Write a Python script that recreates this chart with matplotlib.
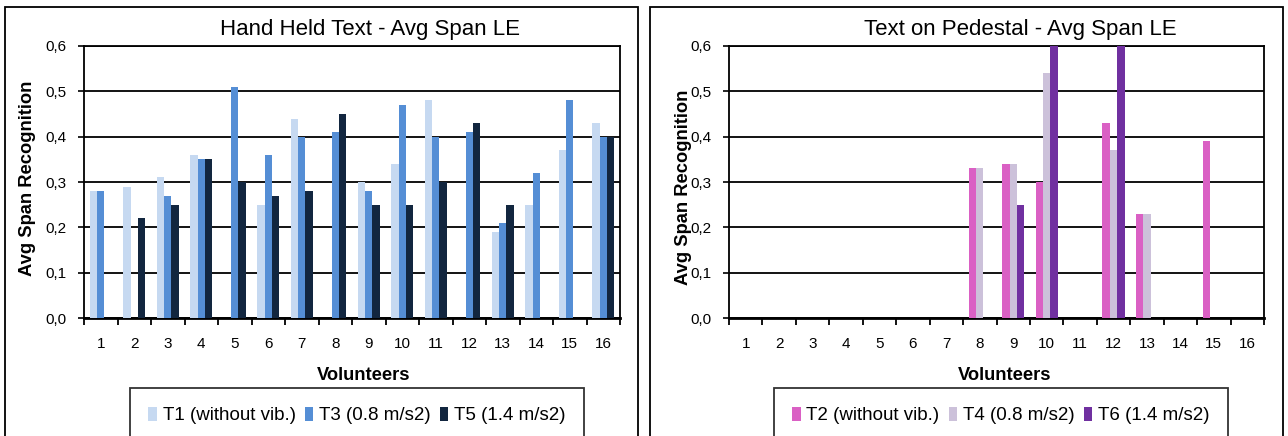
import numpy as np
import matplotlib
matplotlib.use("Agg")
import matplotlib.pyplot as plt
import matplotlib.patches as mpatches
from matplotlib.ticker import FuncFormatter, FixedLocator

plt.rcParams['font.family'] = ['Liberation Sans', 'DejaVu Sans']

volunteers = list(range(1, 17))

# Hand held text, avg span recognition (0 = no bar)
hand_t1 = [0.28, 0.29, 0.31, 0.36, 0.00, 0.25, 0.44, 0.00, 0.30, 0.34, 0.48, 0.00, 0.19, 0.25, 0.37, 0.43]
hand_t3 = [0.28, 0.00, 0.27, 0.35, 0.51, 0.36, 0.40, 0.41, 0.28, 0.47, 0.40, 0.41, 0.21, 0.32, 0.48, 0.40]
hand_t5 = [0.00, 0.22, 0.25, 0.35, 0.30, 0.27, 0.28, 0.45, 0.25, 0.25, 0.30, 0.43, 0.25, 0.00, 0.00, 0.40]

# Text on pedestal
ped_t2 = [0, 0, 0, 0, 0, 0, 0, 0.33, 0.34, 0.30, 0, 0.43, 0.23, 0, 0.39, 0]
ped_t4 = [0, 0, 0, 0, 0, 0, 0, 0.33, 0.34, 0.54, 0, 0.37, 0.23, 0, 0, 0]
ped_t6 = [0, 0, 0, 0, 0, 0, 0, 0.00, 0.25, 0.60, 0, 0.60, 0.00, 0, 0, 0]

hand_labels = ['T1 (without vib.)', 'T3 (0.8 m/s2)', 'T5 (1.4 m/s2)']
ped_labels = ['T2 (without vib.)', 'T4 (0.8 m/s2)', 'T6 (1.4 m/s2)']
hand_colors = ['#C6D9F1', '#558ED5', '#12263F']
ped_colors = ['#DA60C4', '#CCC1DA', '#7030A0']

W, H = 1288, 436
fig = plt.figure(figsize=(W / 100, H / 100), dpi=100)


def px(x0, y0, x1, y1):
    # pixel box -> figure fraction [left, bottom, width, height]
    return [x0 / W, 1 - y1 / H, (x1 - x0) / W, (y1 - y0) / H]


def bar_panel(ax, series, colors, labels):
    x = np.array(volunteers)
    bw = 0.22
    for k, (vals, col, lab) in enumerate(zip(series, colors, labels)):
        ax.bar(x + (k - 1) * bw, vals, width=bw, color=col, label=lab,
               edgecolor='none', zorder=3)
    ax.set_xlim(0.5, 16.5)
    ax.set_ylim(0, 0.6)
    ax.set_yticks(np.arange(0, 0.61, 0.1))
    ax.yaxis.set_major_formatter(FuncFormatter(lambda v, p: f"{v:.1f}".replace('.', ',')))
    ax.set_xticks(volunteers)
    ax.set_xticklabels([str(v) for v in volunteers])
    ax.xaxis.set_minor_locator(FixedLocator(np.arange(0.5, 17, 1)))
    ax.tick_params(axis='x', which='major', length=0, pad=14, labelsize=11)
    ax.tick_params(axis='x', which='minor', length=5, width=1.3, direction='out')
    ax.tick_params(axis='y', length=4, width=1.2, pad=8.5, labelsize=11)
    ax.grid(axis='y', color='black', linewidth=1.3, zorder=1)
    for s in ax.spines.values():
        s.set_linewidth(1.3)
    ax.spines['bottom'].set_linewidth(2)
    ax.set_axisbelow(True)


# panel frames
for x0, x1 in [(5, 638), (650, 1283)]:
    fig.patches.append(mpatches.Rectangle((x0 / W, -0.05), (x1 - x0) / W, 1 - 7 / H + 0.05,
                                          transform=fig.transFigure, fill=False,
                                          edgecolor='black', linewidth=1.3))

ax1 = fig.add_axes(px(84, 46, 620, 318))
bar_panel(ax1, [hand_t1, hand_t3, hand_t5], hand_colors, hand_labels)
ax2 = fig.add_axes(px(729, 46, 1264, 318))
bar_panel(ax2, [ped_t2, ped_t4, ped_t6], ped_colors, ped_labels)

fig.text(370 / W, 1 - 30 / H, 'Hand Held Text - Avg Span LE', ha='center', va='center', fontsize=16)
fig.text(1020 / W, 1 - 30 / H, 'Text on Pedestal - Avg Span LE', ha='center', va='center', fontsize=16)
fig.text(364 / W, 1 - 375 / H, 'Volunteers', ha='center', va='center', fontsize=13.2, fontweight='bold')
fig.text(1005 / W, 1 - 375 / H, 'Volunteers', ha='center', va='center', fontsize=13.2, fontweight='bold')
fig.text(27 / W, 1 - 178 / H, 'Avg Span Recognition', ha='center', va='center', rotation=90,
         fontsize=13.2, fontweight='bold')
fig.text(683 / W, 1 - 187 / H, 'Avg Span Recognition', ha='center', va='center', rotation=90,
         fontsize=13.2, fontweight='bold')

for ax, cx in [(ax1, 357), (ax2, 1001)]:
    h, l = ax.get_legend_handles_labels()
    leg = fig.legend(h, l, loc='upper center', bbox_to_anchor=(cx / W, 1 - 388 / H), ncol=3,
                     fontsize=13.5, frameon=True, fancybox=False, borderpad=1.0,
                     handlelength=0.45, handleheight=0.8, handletextpad=0.3,
                     columnspacing=0.5, borderaxespad=0)
    leg.get_frame().set_edgecolor('black')
    leg.get_frame().set_linewidth(1.3)

fig.savefig('out.png', dpi=100)
